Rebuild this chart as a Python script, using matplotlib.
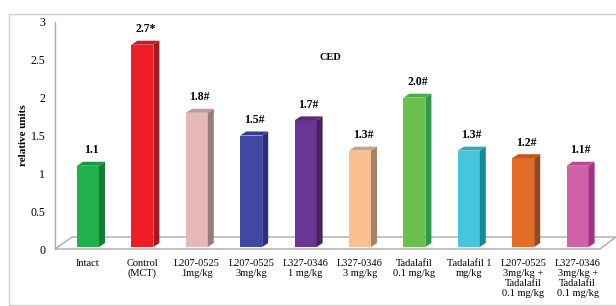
import matplotlib
matplotlib.use("Agg")
import matplotlib.pyplot as plt
from matplotlib.patches import Polygon, Rectangle
from matplotlib.colors import to_rgb
import numpy as np

categories = ["Intact", "Control\n(MCT)", "L207-0525\n1mg/kg", "L207-0525\n3mg/kg",
              "L327-0346\n1 mg/kg", "L327-0346\n3 mg/kg", "Tadalafil\n0.1 mg/kg",
              "Tadalafil 1\nmg/kg", "L207-0525\n3mg/kg +\nTadalafil\n0.1 mg/kg",
              "L327-0346\n3mg/kg +\nTadalafil\n0.1 mg/kg"]
values = [1.1, 2.7, 1.8, 1.5, 1.7, 1.3, 2.0, 1.3, 1.2, 1.1]
marks = ["", "*", "#", "#", "#", "#", "#", "#", "#", "#"]

front_colors = ["#22B24C", "#EE1D25", "#E6B9B8", "#4049A0", "#6B3593",
                "#FAC092", "#6BBF4C", "#46C5DD", "#E46C25", "#D062A7"]
side_colors = ["#177A36", "#A01B20", "#9A7B7B", "#2D2F7E", "#452361",
               "#A88264", "#2E9A46", "#17889A", "#9A4619", "#A13286"]

plt.rcParams["font.family"] = ["Liberation Serif", "DejaVu Serif"]

fig = plt.figure(figsize=(6.16, 3.06), dpi=100)
W, H = 616, 306
ax = fig.add_axes([55 / W, (H - 249) / H, (W - 55) / W, (249 - 22) / H])

px_x = 54.4   # pixels per category
px_y = 75.7   # pixels per unit
xmin = -33 / px_x
xmax = xmin + (W - 55) / px_x
ax.set_xlim(xmin, xmax)
ax.set_ylim(0, 3)

bw = 22 / px_x
dx = 6 / px_x
dy = 4 / px_y
base = 2 / px_y

# floor
fl_dy = 12 / px_y
floor_x0 = xmin
floor_x1 = xmin + 545 / px_x
floor_bx0 = xmin + 17 / px_x
ax.add_patch(Polygon([(floor_x0, 0), (floor_x1, 0), (xmax, fl_dy), (floor_bx0, fl_dy)],
                     closed=True, facecolor="none", edgecolor="#ABABAB", lw=1.0,
                     clip_on=False, zorder=1))

x = np.arange(len(values))
for i, v in enumerate(values):
    l = x[i] - bw / 2
    r = x[i] + bw / 2
    fc = front_colors[i]
    sc = side_colors[i]
    tc = tuple(0.5 * a + 0.5 * b for a, b in zip(to_rgb(fc), to_rgb(sc)))
    ax.add_patch(Polygon([(l, base), (r, base), (r, v), (l, v)], closed=True,
                         facecolor=fc, edgecolor="none", zorder=3, clip_on=False))
    ax.add_patch(Polygon([(r, base), (r + dx, base + dy), (r + dx, v + dy), (r, v)],
                         closed=True, facecolor=sc, edgecolor="none", zorder=3, clip_on=False))
    ax.add_patch(Polygon([(l, v), (r, v), (r + dx, v + dy), (l + dx, v + dy)],
                         closed=True, facecolor=tc, edgecolor="none", zorder=3, clip_on=False))
    ax.annotate(f"{v:.1f}{marks[i]}", (x[i] + dx / 2, v + dy), xytext=(0, 4),
                textcoords="offset points", ha="center", va="bottom",
                fontsize=8.5, fontweight="bold", zorder=4)

for s in ["top", "right", "bottom"]:
    ax.spines[s].set_visible(False)
ax.spines["left"].set_color("#ABABAB")
ax.spines["left"].set_linewidth(1.0)

ax.set_yticks([0, 0.5, 1, 1.5, 2, 2.5, 3])
ax.set_yticklabels(["0", "0.5", "1", "1.5", "2", "2.5", "3"])
ax.tick_params(axis="y", length=0, pad=7, labelsize=8.5)
ax.set_xticks(x)
ax.set_xticklabels(categories, fontsize=7.5, linespacing=1.15, va="top")
ax.tick_params(axis="x", length=0, pad=7)

ax.set_ylabel("relative units", fontsize=8, fontweight="bold", labelpad=2)
fig.text(330 / W, 1 - 57 / H, "CED", fontsize=7.5, fontweight="bold",
         ha="center", va="center")

fig.patches.append(Rectangle((9 / W, 1 / H), 1.0, (305 - 14) / H, transform=fig.transFigure,
                             facecolor="none", edgecolor="#D0D0D0", lw=1.0))

fig.savefig("out.png", dpi=100)
